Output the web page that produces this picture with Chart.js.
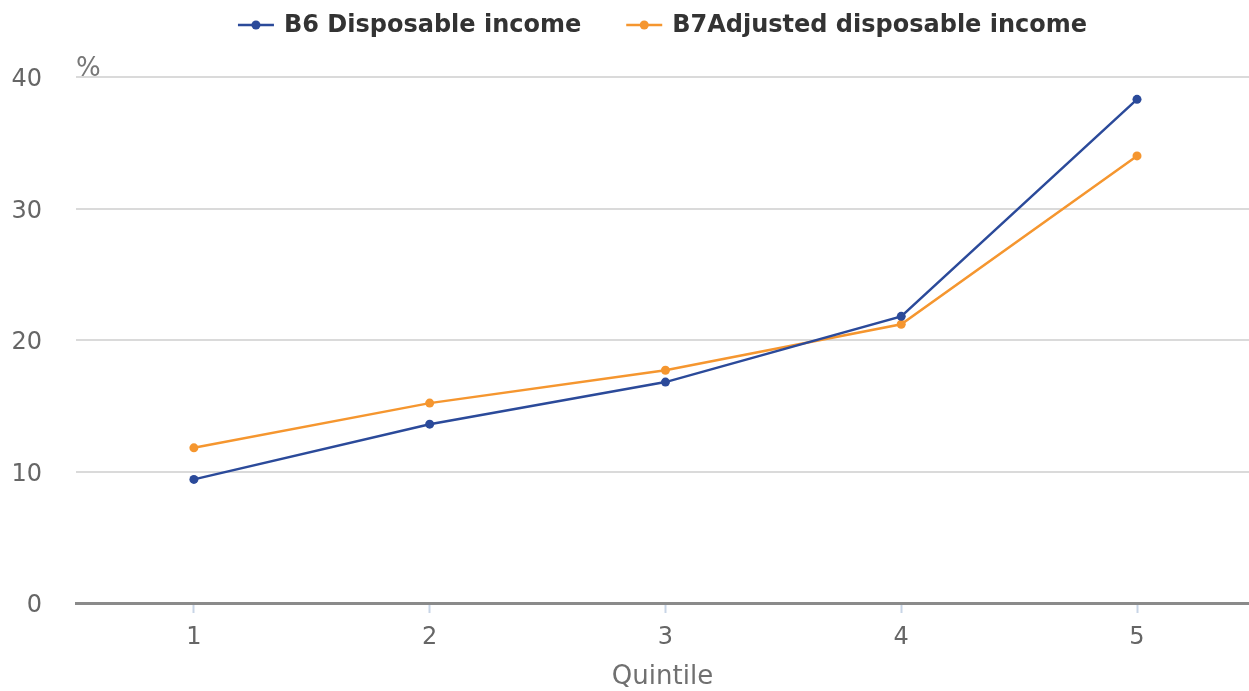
<!DOCTYPE html>
<html>
<head>
<meta charset="utf-8">
<title>Income shares by quintile</title>
<script src="https://cdn.jsdelivr.net/npm/chart.js@4.4.1/dist/chart.umd.min.js"></script>
<style>
  html, body { margin: 0; padding: 0; background: #ffffff; overflow: hidden; }
  canvas { display: block; }
</style>
</head>
<body>
<canvas id="chart" width="1249" height="691"></canvas>
<script>
// Quintiles on the horizontal axis
const quintiles = [1, 2, 3, 4, 5];
const quintileLabels = ['1', '2', '3', '4', '5'];

// Share of income per quintile, %
const disposableIncome = [9.4, 13.6, 16.8, 21.8, 38.3];
const adjustedDisposableIncome = [11.8, 15.2, 17.7, 21.2, 34.0];

// Vertical axis ticks
const yTicks = [0, 10, 20, 30, 40];

const seriesNames = ['B6 Disposable income', 'B7Adjusted disposable income'];
const seriesColors = ['#2b4a9a', '#f5962f'];

const FONT = '"DejaVu Sans", "Noto Sans", sans-serif';

function toPoints(values) {
  return quintiles.map((q, i) => ({ x: q, y: values[i] }));
}

// Legend with a line-and-dot symbol, centred over the plot area, plus the unit label
const lineLegend = {
  id: 'lineLegend',
  afterDraw(chart) {
    const ctx = chart.ctx;
    const area = chart.chartArea;
    ctx.save();
    ctx.font = 'bold 24px ' + FONT;
    const sym = 36, gapText = 10, gapItem = 45;
    const items = chart.data.datasets.map(ds => ({
      label: ds.label,
      color: ds.borderColor,
      w: sym + gapText + ctx.measureText(ds.label).width
    }));
    const total = items.reduce((s, it) => s + it.w, 0) + gapItem * (items.length - 1);
    let x = (area.left + area.right) / 2 - total / 2;
    const y = 25;
    items.forEach(it => {
      ctx.strokeStyle = it.color;
      ctx.lineWidth = 2.5;
      ctx.beginPath();
      ctx.moveTo(x, y);
      ctx.lineTo(x + sym, y);
      ctx.stroke();
      ctx.fillStyle = it.color;
      ctx.beginPath();
      ctx.arc(x + sym / 2, y, 4.5, 0, Math.PI * 2);
      ctx.fill();
      ctx.fillStyle = '#333333';
      ctx.textAlign = 'left';
      ctx.textBaseline = 'middle';
      ctx.fillText(it.label, x + sym + gapText, y + 1);
      x += it.w + gapItem;
    });

    ctx.font = '26px ' + FONT;
    ctx.fillStyle = '#777777';
    ctx.textAlign = 'left';
    ctx.textBaseline = 'alphabetic';
    ctx.fillText('%', area.left, chart.scales.y.getPixelForValue(yTicks[yTicks.length - 1]) - 1);
    ctx.restore();
  }
};

new Chart(document.getElementById('chart'), {
  type: 'line',
  data: {
    datasets: [
      {
        label: seriesNames[0],
        data: toPoints(disposableIncome),
        borderColor: seriesColors[0],
        backgroundColor: seriesColors[0],
        borderWidth: 2.5,
        pointRadius: 4.5,
        pointBorderWidth: 0,
        tension: 0
      },
      {
        label: seriesNames[1],
        data: toPoints(adjustedDisposableIncome),
        borderColor: seriesColors[1],
        backgroundColor: seriesColors[1],
        borderWidth: 2.5,
        pointRadius: 4.5,
        pointBorderWidth: 0,
        tension: 0
      }
    ]
  },
  options: {
    responsive: false,
    animation: false,
    events: [],
    layout: {
      autoPadding: false,
      padding: { left: 0, right: 0, top: 77, bottom: 0 }
    },
    plugins: {
      legend: { display: false },
      tooltip: { enabled: false }
    },
    scales: {
      x: {
        type: 'linear',
        min: 0.5,
        max: 5.475,
        afterBuildTicks(scale) {
          scale.ticks = quintiles.map(v => ({ value: v }));
        },
        afterFit(scale) {
          scale.height = 88;
          scale.paddingLeft = 0;
          scale.paddingRight = 0;
        },
        ticks: {
          color: '#666666',
          font: { family: FONT, size: 24 },
          padding: 10,
          maxRotation: 0,
          callback: (v) => quintileLabels[quintiles.indexOf(v)]
        },
        grid: {
          drawOnChartArea: false,
          drawTicks: true,
          tickLength: 10,
          tickColor: '#c8d5e6',
          tickWidth: 2
        },
        border: { display: true, color: '#8a8a8a', width: 3 },
        title: {
          display: true,
          text: 'Quintile',
          color: '#707070',
          font: { family: FONT, size: 26, lineHeight: 1 },
          padding: { top: 7, bottom: 1 }
        }
      },
      y: {
        min: 0,
        max: 40,
        afterBuildTicks(scale) {
          scale.ticks = yTicks.map(v => ({ value: v }));
        },
        afterFit(scale) {
          scale.width = 76;
          scale.paddingBottom = 0;
        },
        ticks: {
          color: '#666666',
          font: { family: FONT, size: 24 },
          padding: 34,
          labelOffset: 3
        },
        grid: {
          color: (c) => c.tick && c.tick.value === 0 ? 'rgba(0,0,0,0)' : '#dadada',
          lineWidth: 2,
          drawTicks: false
        },
        border: { display: false }
      }
    }
  },
  plugins: [lineLegend]
});
</script>
</body>
</html>
